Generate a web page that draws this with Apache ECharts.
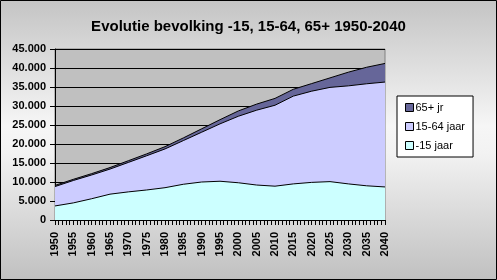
<!DOCTYPE html>
<html><head><meta charset="utf-8">
<script src="https://cdn.jsdelivr.net/npm/echarts@6/dist/echarts.min.js"></script>
<style>
html,body{margin:0;padding:0;}
#c{width:497px;height:280px;background:linear-gradient(180deg,#c4c4c4 0%,#f6f6f6 45%,#f2f2f2 55%,#c0c0c0 100%);}
</style></head>
<body><div id="c"></div>
<script>
const years = [1950,1955,1960,1965,1970,1975,1980,1985,1990,1995,2000,2005,2010,2015,2020,2025,2030,2035,2040];
const young = [3700,4500,5600,6800,7400,7900,8500,9400,10000,10200,9800,9200,8900,9500,9900,10100,9500,9000,8700];
const middle = [5100,5900,6250,6600,7750,9000,10200,11500,13100,15100,17500,19700,21300,23100,24000,24800,25800,26850,27600];
const old = [300,300,350,400,450,500,600,700,900,1100,1400,1600,1800,1800,2000,2500,3600,4350,4900];
const yTicks = {min:0,max:45000,interval:5000};
const names = ['-15 jaar','15-64 jaar','65+ jr'];
const colors = ['#ccffff','#ccccff','#666699'];

// cumulative stacks (stacked area), built from the arrays above
const layers = [young, middle, old];
const cum = [];
layers.forEach((v,k)=>{ cum.push(v.map((x,i)=> x + (k>0 ? cum[k-1][i] : 0))); });
function pairs(v){return years.map((y,i)=>[y,v[i]]);}
const fmt = v => { const s=String(v); return s.length>3 ? s.slice(0,-3)+'.'+s.slice(-3) : s; };
const F = 'Liberation Sans, Arial, sans-serif';

const chart = echarts.init(document.getElementById('c'),null,{renderer:'canvas'});
chart.setOption({
  animation:false,
  title:{text:'Evolutie bevolking -15, 15-64, 65+ 1950-2040',left:'center',top:14,
    textStyle:{fontFamily:F,fontSize:15,fontWeight:'bold',color:'#000'}},
  grid:{left:55,right:112,top:49,bottom:60,show:true,backgroundColor:'#c0c0c0',borderColor:'#808080',borderWidth:1},
  legend:{orient:'vertical',left:397,top:96,width:80,padding:[6,8,6,8],itemGap:8,
    backgroundColor:'#fff',borderColor:'#000',borderWidth:1,borderRadius:0,
    itemWidth:8,itemHeight:8,icon:'rect',
    data:['65+ jr','15-64 jaar','-15 jaar'],
    textStyle:{fontFamily:F,fontSize:11,color:'#000',padding:[0,0,0,-3]},
    itemStyle:{borderColor:'#000',borderWidth:1}},
  xAxis:{type:'value',min:1950,max:2040,interval:5,
    axisLine:{lineStyle:{color:'#000',width:1}},
    axisTick:{show:true,length:5,lineStyle:{color:'#000'}},
    minorTick:{show:true,splitNumber:5,length:5,lineStyle:{color:'#000'}},
    splitLine:{show:false},
    axisLabel:{rotate:90,margin:12,formatter:v=>String(v),fontFamily:F,fontSize:11,fontWeight:'bold',color:'#000'}},
  yAxis:{type:'value',min:yTicks.min,max:yTicks.max,interval:yTicks.interval,
    axisLine:{show:true,lineStyle:{color:'#000'}},
    axisTick:{show:true,length:5,lineStyle:{color:'#000'}},
    splitLine:{lineStyle:{color:'#000',width:1}},
    axisLabel:{formatter:fmt,margin:9,fontFamily:F,fontSize:11,fontWeight:'bold',color:'#000'}},
  graphic:[{type:'rect',shape:{x:0.5,y:0.5,width:496,height:279},style:{fill:null,stroke:'#000',lineWidth:1},silent:true}],
  series:cum.map((d,i)=>({
    name:names[i],type:'line',data:pairs(d),showSymbol:false,
    lineStyle:{color:'#000',width:1},itemStyle:{color:colors[i],borderColor:'#000',borderWidth:1},
    areaStyle:{color:colors[i],opacity:1,origin:'start'},z:5-i
  }))
});
</script></body></html>
